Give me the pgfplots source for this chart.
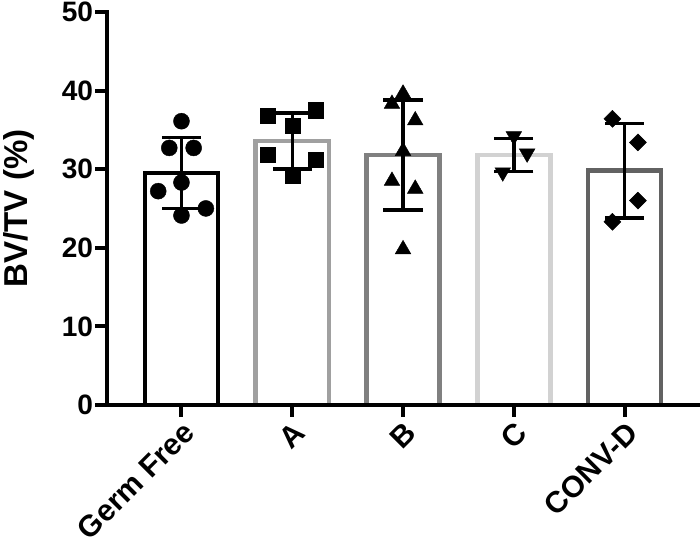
\documentclass[border=0pt]{standalone}
\usepackage{fontspec}
\setmainfont{Liberation Sans}
\usepackage{pgfplots}
\pgfplotsset{compat=1.18}
\definecolor{cA}{HTML}{A0A0A0}
\definecolor{cB}{HTML}{808080}
\definecolor{cC}{HTML}{D2D2D2}
\definecolor{cD}{HTML}{626262}
\begin{document}
\begin{tikzpicture}
\begin{axis}[
  scale only axis,
  width=589pt, height=392pt,
  xmin=-0.67, xmax=4.66,
  ymin=0, ymax=50,
  axis x line*=bottom, axis y line*=left,
  axis line style={line width=4.5pt, line cap=rect},
  xtick={0,1,2,3,4},
  xticklabels={Germ Free,A,B,C,CONV-D},
  ytick={0,10,20,30,40,50},
  tick align=outside,
  major tick length=12pt,
  tick style={line width=4pt, black},
  /pgf/number format/assume math mode=true,
  ticklabel style={font=\fontsize{28}{28}\selectfont\bfseries},
  yticklabel style={inner sep=2pt},
  xticklabel style={font=\fontsize{30}{30}\selectfont\bfseries, rotate=45, anchor=north east, inner sep=2pt},
  ylabel={BV/TV (\%)},
  ylabel style={font=\fontsize{33}{33}\selectfont\bfseries},
  ylabel shift=22pt,
  axis on top,
  clip=false,
]
% bars
\addplot[ybar, bar width=0.66, bar shift=0pt, draw=black, fill=white, line width=4.5pt] coordinates {(0,29.5)};
\addplot[ybar, bar width=0.66, bar shift=0pt, draw=cA, fill=white, line width=4.5pt] coordinates {(1,33.6)};
\addplot[ybar, bar width=0.66, bar shift=0pt, draw=cB, fill=white, line width=4.5pt] coordinates {(2,31.8)};
\addplot[ybar, bar width=0.66, bar shift=0pt, draw=cC, fill=white, line width=4.5pt] coordinates {(3,31.8)};
\addplot[ybar, bar width=0.66, bar shift=0pt, draw=cD, fill=white, line width=4.5pt] coordinates {(4,29.8)};
% error bars
\addplot[draw=none, mark=none,
  error bars/.cd, y dir=both, y explicit,
  error bar style={draw=black, line width=3.5pt},
  error mark options={draw=black, rotate=90, mark size=19.5pt, line width=3.5pt}]
  coordinates {
  (0,29.5) +- (0,4.5)
  (1,33.6) +- (0,3.55)
  (2,31.8) +- (0,7.0)
  (3,31.8) +- (0,2.1)
  (4,29.8) +- (0,6.0)
  };
% points
\addplot[only marks, mark=*, mark size=8pt, black] coordinates {
  (0,36.1) (-0.11,32.7) (0.11,32.7) (0,28.3) (-0.21,27.2) (0,24.1) (0.22,25.0)};
\addplot[only marks, mark=square*, mark size=7.5pt, black] coordinates {
  (0.78,36.8) (1.21,37.5) (1,35.5) (0.78,31.8) (1.21,31.2) (1,29.2)};
\addplot[only marks, mark=triangle*, mark size=9pt, black] coordinates {
  (2,39.6) (1.9,38.3) (2.11,36.2) (2,32.3) (1.9,28.5) (2.11,27.5) (2,19.8)};
\addplot[only marks, mark=triangle*, mark size=9pt, black, mark options={rotate=180}] coordinates {
  (3,34.2) (3.12,32.0) (2.9,29.6)};
\addplot[only marks, mark=square*, mark size=6pt, black, mark options={rotate=45}] coordinates {
  (3.89,36.4) (4.12,33.4) (4.12,26.0) (3.89,23.3)};
\end{axis}
\end{tikzpicture}
\end{document}
